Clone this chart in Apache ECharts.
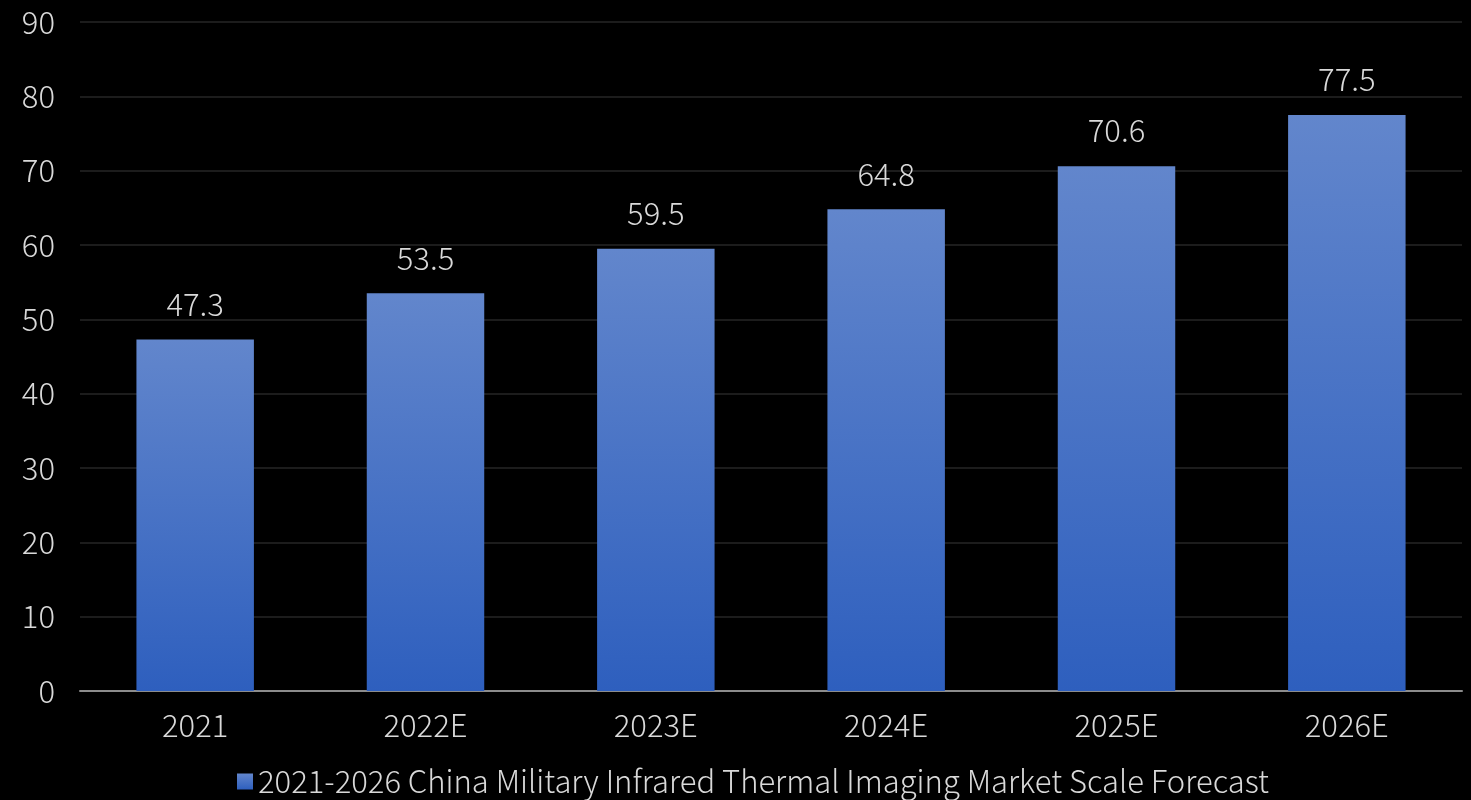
<!DOCTYPE html>
<html><head><meta charset="utf-8">
<script src="https://cdn.jsdelivr.net/npm/echarts@6/dist/echarts.min.js"></script>
<style>html,body{margin:0;padding:0;background:#000;}#c{width:1471px;height:800px;}</style>
</head><body><div id="c"></div>
<script>
const categories = ['2021', '2022E', '2023E', '2024E', '2025E', '2026E'];
const values = [47.3, 53.5, 59.5, 64.8, 70.6, 77.5];
const seriesName = '2021-2026 China Military Infrared Thermal Imaging Market Scale Forecast';
const yTicks = { min: 0, max: 90, interval: 10 };

const FONT = '"Noto Sans CJK SC", "Noto Sans", sans-serif';
const FS = 31;
const chart = echarts.init(document.getElementById('c'));
chart.setOption({
  backgroundColor: '#000',
  animation: false,
  textStyle: { fontFamily: FONT },
  grid: { left: 80, right: 9, top: 22, bottom: 109, containLabel: false },
  legend: {
    top: 761, left: 232,
    itemWidth: 16, itemHeight: 16,
    icon: 'rect',
    textStyle: { color: '#d9d9d9', fontSize: FS, fontFamily: FONT, fontWeight: 300 },
    data: [seriesName]
  },
  xAxis: {
    type: 'category', data: categories,
    axisLine: { lineStyle: { color: '#8c8c8c', width: 2 } },
    axisTick: { show: false },
    axisLabel: { color: '#d9d9d9', fontSize: FS, margin: 19, fontFamily: FONT, fontWeight: 300 }
  },
  yAxis: {
    type: 'value', min: yTicks.min, max: yTicks.max, interval: yTicks.interval,
    axisLine: { show: false }, axisTick: { show: false },
    splitLine: { lineStyle: { color: '#262626', width: 1.5 } },
    axisLabel: { color: '#d9d9d9', fontSize: FS, margin: 25, fontFamily: FONT, fontWeight: 300 }
  },
  series: [{
    name: seriesName, type: 'bar', data: values, barWidth: '51%',
    itemStyle: {
      color: new echarts.graphic.LinearGradient(0, 0, 0, 1, [
        { offset: 0, color: '#6286cc' },
        { offset: 1, color: '#2e5fbe' }
      ])
    },
    label: { show: true, position: 'top', distance: 20, color: '#d9d9d9', fontSize: FS, fontFamily: FONT, fontWeight: 300 }
  }]
});
</script></body></html>
